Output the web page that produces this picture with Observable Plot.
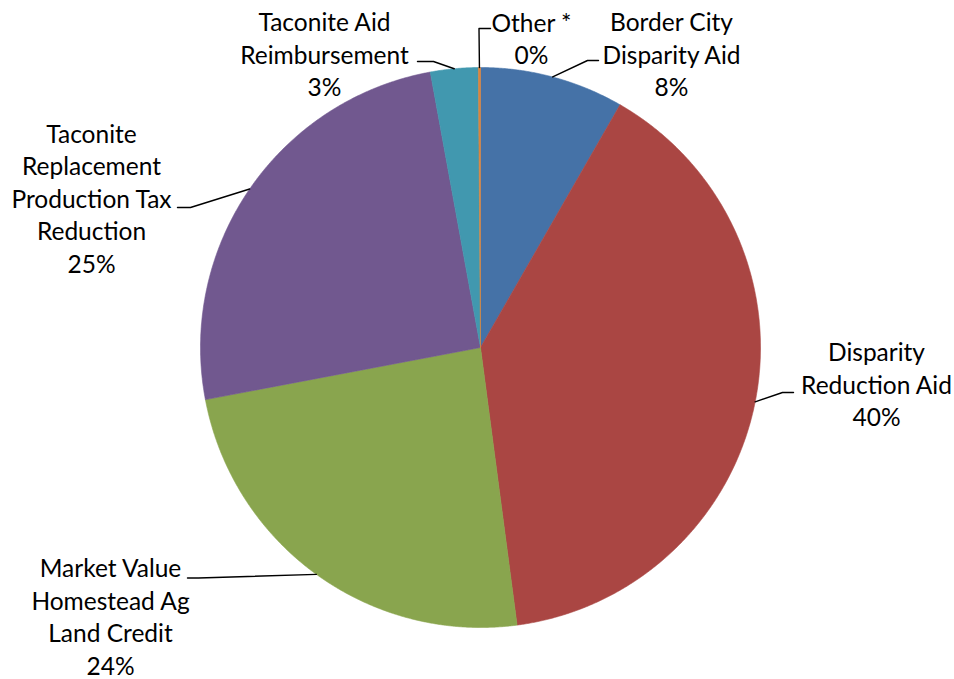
<!DOCTYPE html>
<html>
<head>
<meta charset="utf-8">
<script src="https://cdn.jsdelivr.net/npm/d3@7"></script>
<script src="https://cdn.jsdelivr.net/npm/@observablehq/plot@0.6"></script>
<style>
  html, body { margin: 0; padding: 0; background: #fff; }
  #chart svg { display: block; }
</style>
</head>
<body>
<div id="chart"></div>
<script>
// ---- data ----
const categories = [
  "Border City Disparity Aid",
  "Disparity Reduction Aid",
  "Market Value Homestead Ag Land Credit",
  "Taconite Replacement Production Tax Reduction",
  "Taconite Aid Reimbursement",
  "Other *"
];
const labelText = [
  "Border City\nDisparity Aid",
  "Disparity\nReduction Aid",
  "Market Value\nHomestead Ag\nLand Credit",
  "Taconite\nReplacement\nProduction Tax\nReduction",
  "Taconite Aid\nReimbursement",
  "Other *"
];
const values = [8.3, 39.6, 24.1, 25.1, 2.75, 0.12];
const colors = ["#4572A7", "#AA4643", "#89A54E", "#71588F", "#4198AF", "#DB843D"];

// ---- layout (pixels) ----
const W = 954, H = 679, CX = 480, CY = 347, R = 280;
// label block centre and leader elbow / end points
const labelLayout = [
  {lx: 671, ly: 53,  elbow: [587, 60],  end: [598, 60]},
  {lx: 876, ly: 383, elbow: [782, 392], end: [793, 392]},
  {lx: 110, ly: 615, elbow: [198, 577.5], end: [187, 577.5]},
  {lx: 91,  ly: 197, elbow: [190, 207], end: [177, 207]},
  {lx: 324, ly: 53,  elbow: [433, 61],  end: [417, 61]},
  {lx: 531, ly: 37,  elbow: [478.5, 28], end: [490, 28]}
];
const fontSize = 24.5, lineHeightPx = 32.5;

const toX = px => (px - CX) / R;
const toY = py => (CY - py) / R;

const total = d3.sum(values);
const arcs = d3.pie().sort(null).value(d => d)(values);

// slice polygons in unit space
const slices = arcs.map((a, i) => {
  const pts = [{x: 0, y: 0}];
  const n = Math.max(2, Math.ceil((a.endAngle - a.startAngle) / 0.004));
  for (let k = 0; k <= n; k++) {
    const t = a.startAngle + (a.endAngle - a.startAngle) * k / n;
    pts.push({x: Math.sin(t), y: Math.cos(t)});
  }
  pts.push({x: 0, y: 0});
  return pts;
});

// leader lines: start on arc at mid-angle
const leaders = [];
arcs.forEach((a, i) => {
  const m = (a.startAngle + a.endAngle) / 2;
  const L = labelLayout[i];
  leaders.push({name: categories[i], x: Math.sin(m), y: Math.cos(m)});
  leaders.push({name: categories[i], x: toX(L.elbow[0]), y: toY(L.elbow[1])});
  leaders.push({name: categories[i], x: toX(L.end[0]), y: toY(L.end[1])});
});

const labels = arcs.map((a, i) => {
  const pct = Math.round(values[i] / total * 100);
  const txt = labelText[i] + "\n" + pct + "%";
  return {text: txt, x: toX(labelLayout[i].lx), y: toY(labelLayout[i].ly)};
});

const chart = Plot.plot({
  width: W,
  height: H,
  margin: 0,
  x: {domain: [toX(0), toX(W)], axis: null},
  y: {domain: [toY(H), toY(0)], axis: null},
  style: {background: "#fff", fontFamily: "Lato, 'Open Sans', sans-serif"},
  marks: [
    ...slices.map((pts, i) => Plot.line(pts, {
      x: "x", y: "y", fill: colors[i], stroke: colors[i], strokeWidth: 0.6, curve: "linear"
    })),
    Plot.line(leaders, {x: "x", y: "y", z: "name", stroke: "#000", strokeWidth: 1.4}),
    Plot.text(labels, {
      x: "x", y: "y", text: "text",
      fontSize: fontSize, lineHeight: lineHeightPx / fontSize,
      textAnchor: "middle", lineAnchor: "middle", fill: "#000"
    })
  ]
});
document.getElementById("chart").appendChild(chart);
</script>
</body>
</html>
